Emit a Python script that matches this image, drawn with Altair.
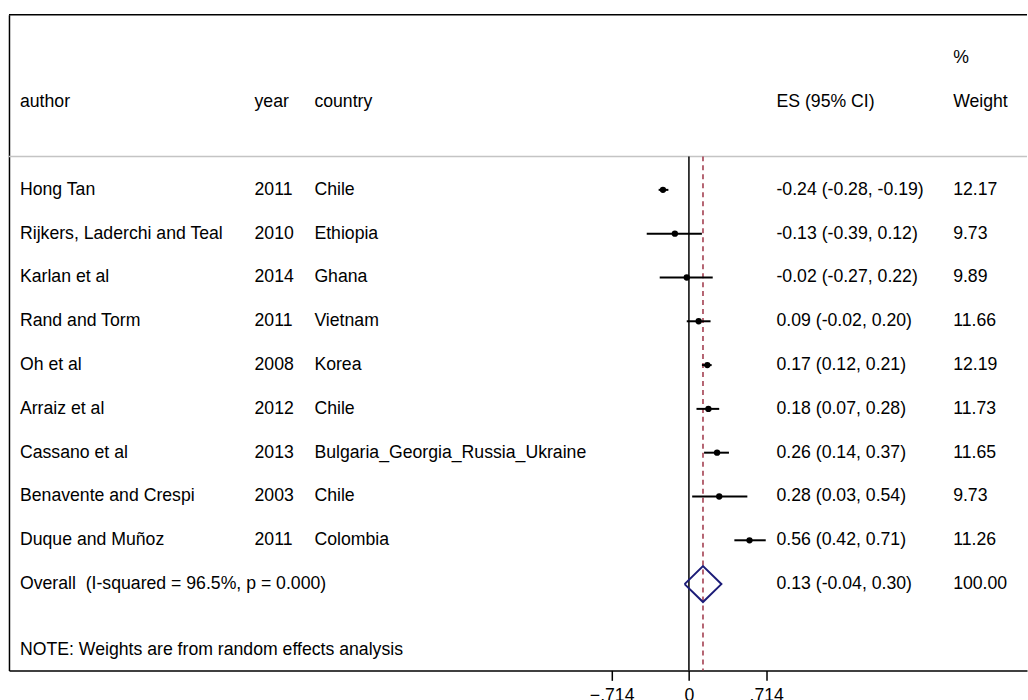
import altair as alt
import pandas as pd

# Study-level results (effect size with 95% CI and random-effects weight)
authors = ["Hong Tan", "Rijkers, Laderchi and Teal", "Karlan et al", "Rand and Torm",
           "Oh et al", "Arraiz et al", "Cassano et al", "Benavente and Crespi",
           "Duque and Muñoz"]
years = ["2011", "2010", "2014", "2011", "2008", "2012", "2013", "2003", "2011"]
countries = ["Chile", "Ethiopia", "Ghana", "Vietnam", "Korea", "Chile",
             "Bulgaria_Georgia_Russia_Ukraine", "Chile", "Colombia"]
es = [-0.24, -0.13, -0.02, 0.09, 0.17, 0.18, 0.26, 0.28, 0.56]
ci_low = [-0.28, -0.39, -0.27, -0.02, 0.12, 0.07, 0.14, 0.03, 0.42]
ci_high = [-0.19, 0.12, 0.22, 0.20, 0.21, 0.28, 0.37, 0.54, 0.71]
weights = [12.17, 9.73, 9.89, 11.66, 12.19, 11.73, 11.65, 9.73, 11.26]

# Pooled estimate
overall_es = 0.13
overall_low = -0.04
overall_high = 0.30
overall_weight = 100.00
overall_label = "Overall\u00a0 (I-squared = 96.5%, p = 0.000)"
note_label = "NOTE: Weights are from random effects analysis"

tick_values = [-0.714, 0, 0.714]

FONT = "Liberation Sans"
FS = 17.7
W, H = 1020, 657

n = len(authors)
studies = pd.DataFrame({
    "row": list(range(n)),
    "author": authors,
    "year": years,
    "country": countries,
    "es": es,
    "lo": ci_low,
    "hi": ci_high,
    "esci": [f"{e:.2f} ({l:.2f}, {h:.2f})" for e, l, h in zip(es, ci_low, ci_high)],
    "weight": [f"{w:.2f}" for w in weights],
})

summary = pd.DataFrame({
    "row": [n, n + 1.5],
    "label": [overall_label, note_label],
    "esci": [f"{overall_es:.2f} ({overall_low:.2f}, {overall_high:.2f})", ""],
    "weight": [f"{overall_weight:.2f}", ""],
})

headers = pd.DataFrame({
    "row": [-2, -2, -2, -2, -2, -3],
    "text": ["author", "year", "country", "ES (95% CI)", "Weight", "%"],
    "px": [11, 246, 306, 769, 946, 946],
})

half = 0.41
diamond = pd.DataFrame({
    "x": [overall_low, overall_es, overall_high, overall_es, overall_low],
    "row": [n, n - half, n, n + half, n],
    "k": [0, 1, 2, 3, 4],
})

xscale = alt.Scale(domain=[-6.285, 3.125], nice=False, zero=False)
yscale = alt.Scale(domain=[-4.0, 10.97], nice=False, zero=False, reverse=True)

xaxis = alt.Axis(values=tick_values, title=None, grid=False,
                 labelExpr="datum.value == 0 ? '0' : replace(format(datum.value, '.3f'), '0.', '.')",
                 domainColor="black", domainWidth=1.5, tickColor="black", tickWidth=1.5,
                 tickSize=10, labelFont=FONT, labelFontSize=FS, labelColor="black",
                 labelPadding=6, labelFlush=False, labelOverlap=False)
yaxis = alt.Axis(title=None, grid=False, labels=False, ticks=False,
                 domainColor="black", domainWidth=1.5)

base = alt.Chart(studies)

ci = base.mark_rule(color="black", strokeWidth=2).encode(
    x=alt.X("lo:Q", scale=xscale, axis=xaxis),
    x2="hi:Q",
    y=alt.Y("row:Q", scale=yscale, axis=yaxis),
)
dots = base.mark_circle(color="black", size=40, opacity=1).encode(
    x=alt.X("es:Q", scale=xscale), y=alt.Y("row:Q", scale=yscale)
)

def text_col(data, field, px):
    return alt.Chart(data).mark_text(
        align="left", baseline="middle", font=FONT, fontSize=FS, color="black"
    ).encode(x=alt.value(px), y=alt.Y("row:Q", scale=yscale), text=f"{field}:N")

cols = [
    text_col(studies, "author", 11),
    text_col(studies, "year", 246),
    text_col(studies, "country", 306),
    text_col(studies, "esci", 769),
    text_col(studies, "weight", 946),
    text_col(summary, "label", 11),
    text_col(summary, "esci", 769),
    text_col(summary, "weight", 946),
]

head = alt.Chart(headers).mark_text(
    align="left", baseline="middle", font=FONT, fontSize=FS, color="black"
).encode(x=alt.X("px:Q", scale=None), y=alt.Y("row:Q", scale=yscale), text="text:N")

ref_df = pd.DataFrame({"x": [0.0]})
zero_line = alt.Chart(ref_df).mark_rule(color="black", strokeWidth=1.5).encode(
    x=alt.X("x:Q", scale=xscale), y=alt.value(142), y2=alt.value(H)
)
pooled_df = pd.DataFrame({"x": [overall_es]})
pooled_line = alt.Chart(pooled_df).mark_rule(
    color="#9e3346", strokeWidth=1.5, strokeDash=[5, 4]
).encode(x=alt.X("x:Q", scale=xscale), y=alt.value(142), y2=alt.value(H))

diamond_mark = alt.Chart(diamond).mark_line(color="#1c1c78", strokeWidth=2).encode(
    x=alt.X("x:Q", scale=xscale), y=alt.Y("row:Q", scale=yscale), order="k:Q"
)

frame_top = alt.Chart(ref_df).mark_rule(color="black", strokeWidth=1.5).encode(
    x=alt.value(0), x2=alt.value(W), y=alt.value(0)
)
separator = alt.Chart(ref_df).mark_rule(color="#c4c4c4", strokeWidth=1.5).encode(
    x=alt.value(0), x2=alt.value(W), y=alt.value(142)
)

chart = alt.layer(
    separator, zero_line, pooled_line, ci, dots, diamond_mark, frame_top, head, *cols
).properties(
    width=W, height=H,
    padding={"left": 8, "top": 13, "right": 0, "bottom": 0},
    background="white",
).configure_view(strokeWidth=0)

chart.save("out.html", embed_options={"renderer": "svg", "actions": False})
